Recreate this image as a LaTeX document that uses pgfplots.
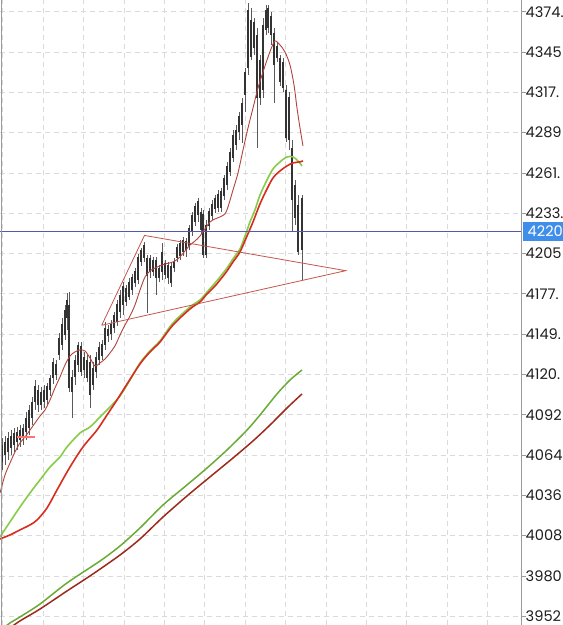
\documentclass[border=0pt]{standalone}
\usepackage{pgfplots}
\pgfplotsset{compat=1.18}
\usepackage{pgfplotstable}
\usepackage{fontspec}
\newfontfamily\tickfont{Poppins}
\definecolor{fastma}{HTML}{B0443A}
\definecolor{mgreen}{HTML}{86CC48}
\definecolor{mred}{HTML}{D62D1E}
\definecolor{lgreen}{HTML}{6AAB35}
\definecolor{lred}{HTML}{9E2A1C}
\definecolor{tri}{HTML}{C4564A}
\definecolor{hline}{HTML}{5558B0}
\definecolor{gridc}{HTML}{DADADA}
\definecolor{axisc}{HTML}{9A9A9A}
\definecolor{lblbg}{HTML}{3F8FEA}
\definecolor{candle}{HTML}{333333}
\definecolor{wick}{HTML}{5A5A5A}

\pgfplotstableread{
x h bt bb l
2 4076.6 4071.7 4059.8 4054.2
5 4078.0 4073.8 4064.7 4057.7
8 4080.8 4076.6 4066.8 4061.2
11 4082.1 4078.0 4069.6 4064.7
14 4083.5 4080.0 4071.7 4066.8
17 4084.2 4080.8 4073.8 4068.2
20 4085.6 4082.1 4075.2 4070.3
23 4086.3 4083.5 4076.6 4071.7
26 4094.7 4090.5 4080.8 4075.2
29 4099.6 4096.1 4083.5 4078.7
32 4105.2 4101.7 4090.5 4085.6
35 4117.0 4112.8 4101.7 4096.1
38 4113.5 4110.1 4099.6 4094.7
41 4112.2 4108.7 4099.6 4096.1
44 4113.5 4110.1 4101.7 4097.5
47 4114.9 4112.8 4103.1 4099.6
50 4120.5 4118.4 4110.1 4105.9
53 4132.4 4129.6 4118.4 4114.2
56 4131.0 4128.2 4120.5 4117.0
59 4149.8 4146.3 4134.5 4131.0
62 4160.3 4156.1 4141.5 4138.0
65 4169.4 4165.9 4148.4 4144.9
67 4177.7 4172.9 4160.3 4151.9
69 4178.4 4169.4 4111.5 4108.7
72 4124.0 4119.1 4108.7 4090.5
75 4134.5 4131.0 4119.1 4113.5
78 4143.5 4141.5 4127.5 4122.6
81 4143.5 4140.8 4122.6 4119.8
84 4136.6 4133.1 4124.0 4118.4
87 4134.5 4131.0 4118.4 4115.6
90 4134.5 4129.6 4106.6 4097.5
93 4129.6 4125.4 4113.5 4110.1
96 4136.6 4133.1 4122.6 4118.4
99 4143.5 4140.1 4131.0 4127.5
102 4144.9 4142.2 4133.8 4131.0
105 4157.5 4153.3 4141.5 4138.0
108 4155.4 4152.6 4147.7 4143.5
111 4158.9 4156.1 4149.1 4144.9
114 4164.5 4162.4 4153.3 4149.8
117 4172.9 4170.1 4157.5 4154.7
120 4179.8 4176.3 4164.5 4160.3
123 4185.4 4182.6 4169.4 4162.4
126 4183.3 4181.2 4171.5 4168.7
129 4188.2 4185.4 4174.9 4172.9
132 4191.0 4188.9 4179.8 4176.3
135 4195.2 4193.1 4184.7 4181.9
138 4205.0 4202.9 4186.8 4184.0
141 4209.1 4207.8 4199.4 4196.6
144 4213.3 4211.2 4202.2 4199.4
147 4204.3 4202.2 4189.6 4163.8
150 4204.3 4202.2 4192.4 4188.2
153 4202.9 4200.8 4192.4 4189.6
156 4202.9 4200.8 4188.2 4176.3
159 4197.3 4195.2 4188.2 4185.4
162 4212.6 4206.4 4192.4 4186.8
165 4200.8 4198.7 4190.3 4187.5
168 4199.4 4197.3 4188.2 4184.0
171 4199.4 4196.6 4184.7 4181.9
174 4202.2 4199.4 4195.2 4192.4
177 4211.9 4209.8 4202.2 4199.4
180 4214.7 4212.6 4203.6 4200.8
183 4216.8 4214.7 4206.4 4203.6
186 4216.1 4214.0 4207.8 4202.9
189 4225.2 4223.1 4210.5 4207.8
192 4234.3 4232.2 4220.3 4217.5
195 4240.5 4238.4 4227.3 4224.5
198 4244.0 4241.9 4232.2 4227.3
201 4237.1 4234.3 4221.7 4218.9
203 4235.7 4232.9 4204.3 4202.2
206 4228.7 4225.2 4204.3 4202.2
209 4237.1 4235.0 4224.5 4221.7
212 4242.6 4239.9 4231.5 4228.7
215 4246.1 4244.0 4236.4 4233.6
218 4249.6 4246.8 4237.1 4234.3
221 4251.0 4248.9 4237.1 4234.3
224 4260.1 4258.0 4245.4 4242.6
227 4269.2 4266.4 4253.1 4249.6
230 4278.9 4276.1 4262.2 4259.4
233 4291.5 4288.0 4272.0 4269.2
236 4295.0 4291.5 4281.0 4277.5
239 4304.0 4301.3 4290.1 4284.5
242 4313.8 4310.3 4295.0 4282.4
245 4334.7 4331.9 4315.9 4304.0
248 4380.1 4375.2 4334.7 4329.9
251 4376.6 4368.2 4342.4 4340.3
254 4369.6 4366.8 4348.7 4343.8
257 4362.7 4357.8 4313.8 4278.9
260 4343.8 4340.3 4313.8 4308.9
263 4369.6 4364.8 4319.4 4313.8
266 4378.7 4375.2 4361.3 4357.8
268 4378.7 4376.6 4362.7 4359.2
271 4373.8 4371.0 4357.8 4350.8
274 4362.7 4359.2 4336.8 4310.3
277 4352.9 4350.1 4341.7 4338.9
280 4343.8 4341.7 4325.0 4322.2
283 4341.7 4338.9 4320.8 4318.0
286 4322.9 4319.4 4285.9 4283.1
289 4318.0 4314.5 4284.5 4277.5
292 4284.5 4278.9 4242.6 4220.3
295 4256.6 4253.1 4230.1 4225.2
298 4246.1 4239.2 4206.4 4204.3
302 4246.1 4244.0 4207.8 4186.8
}\candles

\begin{document}
\begin{tikzpicture}[x=1pt,y=1pt]
\useasboundingbox (0,0) rectangle (563,625);
\clip (0,0) rectangle (563,625);
\fill[white] (0,0) rectangle (563,625);
\begin{axis}[
  at={(0,0)}, anchor=south west, scale only axis,
  width=521.5pt, height=625pt,
  xmin=0, xmax=521.5, ymin=3946.06, ymax=4382.18,
  axis line style={draw=none},
  xtick={2.6,43,83.4,123.8,164.2,204.6,245,285.4,325.8,366.2,406.6,447,487.4},
  xticklabels={}, xtick style={draw=none},
  ytick={3952.22,3980.34,4008.46,4036.58,4064.70,4092.82,4120.94,4149.06,4177.18,4205.30,4233.42,4261.54,4289.66,4317.78,4345.90,4374.02},
  yticklabels={3952,3980,4008,4036,4064,4092,4120.,4149.,4177.,4205,4233.,4261.,4289,4317.,4345,4374.},
  ytick pos=right, yticklabel pos=right,
  tick align=outside, major tick length=4pt,
  ytick style={draw=axisc, line width=0.6pt},
  yticklabel style={anchor=west, inner sep=0pt, xshift=0pt, font=\tickfont\fontsize{14.6}{15}\selectfont, text=black!88},
  grid=major,
  major grid style={draw=gridc, line width=0.6pt, dash pattern=on 5pt off 4pt},
]
% candles
\addplot[wick, line width=0.65pt, quiver={u=0, v=\thisrow{h}-\thisrow{l}}] table[x=x, y=l] {\candles};
\addplot[candle, line width=1.35pt, quiver={u=0, v=\thisrow{bt}-\thisrow{bb}}] table[x=x, y=bb] {\candles};
% slow MAs
\addplot[lgreen, line width=1.5pt, smooth] coordinates {
(5,3944.7) (10,3947.5) (20,3951.7) (40,3960.7) (67,3975.4) (100,3990.7) (120,4001.2) (140,4013.8) (163,4029.8) (187,4043.8) (207,4055.6) (227,4068.2) (247,4082.1) (260,4092.6) (277,4107.3) (290,4117.0) (302,4124.0)};
\addplot[lred, line width=1.5pt, smooth] coordinates {
(10,3944.0) (20,3948.9) (40,3957.2) (67,3969.8) (93,3981.7) (120,3994.9) (140,4006.1) (163,4021.4) (187,4036.1) (210,4049.4) (233,4062.6) (253,4074.5) (270,4085.6) (287,4097.5) (302,4107.3)};
% medium MAs
\addplot[mgreen, line width=1.6pt, smooth] coordinates {
(0,4007.5) (10,4018.0) (20,4028.4) (30,4038.2) (40,4047.3) (50,4056.3) (60,4063.3) (67,4070.3) (80,4080.0) (90,4084.2) (100,4091.2) (110,4098.2) (120,4105.9) (130,4117.0) (140,4128.9) (150,4137.3) (160,4144.3) (173,4156.8) (190,4168.0) (200,4172.9) (207,4178.4) (215,4184.7) (220,4188.9) (227,4195.2) (233,4201.5) (240,4208.5) (245,4217.5) (250,4227.3) (255,4235.7) (260,4246.1) (267,4256.6) (273,4264.3) (280,4269.2) (287,4272.7) (293,4272.7) (298,4269.9) (302,4266.4)};
\addplot[mred, line width=1.6pt, smooth] coordinates {
(0,4006.1) (10,4008.9) (20,4012.4) (30,4015.9) (37,4019.3) (47,4027.7) (57,4040.3) (70,4056.3) (83,4070.3) (97,4082.1) (107,4092.6) (117,4103.1) (127,4114.2) (140,4128.2) (150,4136.6) (160,4143.5) (173,4155.4) (190,4166.6) (200,4171.5) (207,4177.1) (215,4182.6) (220,4186.8) (227,4193.1) (233,4199.4) (240,4206.4) (247,4217.5) (253,4227.3) (260,4239.9) (267,4250.3) (273,4258.0) (280,4262.9) (287,4266.4) (293,4268.5) (300,4269.2) (303,4269.9)};
% fast MA
\addplot[fastma, line width=0.9pt, smooth] coordinates {
(0,4038.2) (5,4050.7) (10,4059.1) (15,4066.8) (20,4073.1) (25,4077.3) (30,4082.1) (35,4087.0) (40,4091.9) (45,4096.1) (50,4103.1) (55,4111.5) (60,4119.1) (65,4127.5) (70,4133.8) (75,4136.6) (80,4138.0) (85,4137.3) (90,4132.4) (95,4126.8) (100,4128.9) (105,4131.7) (110,4135.9) (115,4140.8) (120,4148.4) (125,4155.4) (130,4161.7) (135,4169.4) (140,4179.8) (145,4188.9) (150,4193.1) (155,4195.2) (160,4196.6) (165,4198.0) (170,4198.7) (175,4200.1) (180,4202.9) (185,4207.1) (190,4211.2) (195,4214.0) (200,4217.5) (205,4222.4) (210,4227.3) (215,4229.4) (220,4230.8) (225,4232.9) (228,4237.8) (233,4249.6) (238,4261.5) (243,4277.5) (248,4292.9) (253,4306.8) (258,4320.8) (263,4331.9) (267,4340.3) (271,4348.0) (275,4353.6) (280,4350.8) (285,4345.9) (290,4336.8) (294,4322.9) (297,4306.8) (300,4292.9) (303,4280.3)};
% triangle
\addplot[tri, line width=0.8pt] coordinates {(101.7,4155.2) (144.5,4217.9) (345.7,4193.3) (101.7,4155.2)};
% small marker
\addplot[red!55!white, line width=2.6pt] coordinates {(17,4077.3) (35,4077.3)};
% current price line
\addplot[hline, line width=0.9pt] coordinates {(0,4220.66) (521.5,4220.66)};
\coordinate (lbl) at (axis cs:521.5,4220.66);
\coordinate (ltop) at (axis cs:1.5,4382.18);
\coordinate (lbot) at (axis cs:1.5,3946.06);
\coordinate (rtop) at (axis cs:521.5,4382.18);
\coordinate (rbot) at (axis cs:521.5,3946.06);
\end{axis}
\draw[axisc, line width=0.8pt] (ltop) -- (lbot);
\draw[axisc, line width=0.8pt] (rtop) -- (rbot);
\node[anchor=west, fill=lblbg, text=white, inner xsep=5pt, inner ysep=0pt, minimum height=19pt, minimum width=44pt, text width=34pt, align=left, font=\tickfont\fontsize{14.6}{15}\selectfont] at ([xshift=1pt]lbl) {4220};
\end{tikzpicture}
\end{document}
